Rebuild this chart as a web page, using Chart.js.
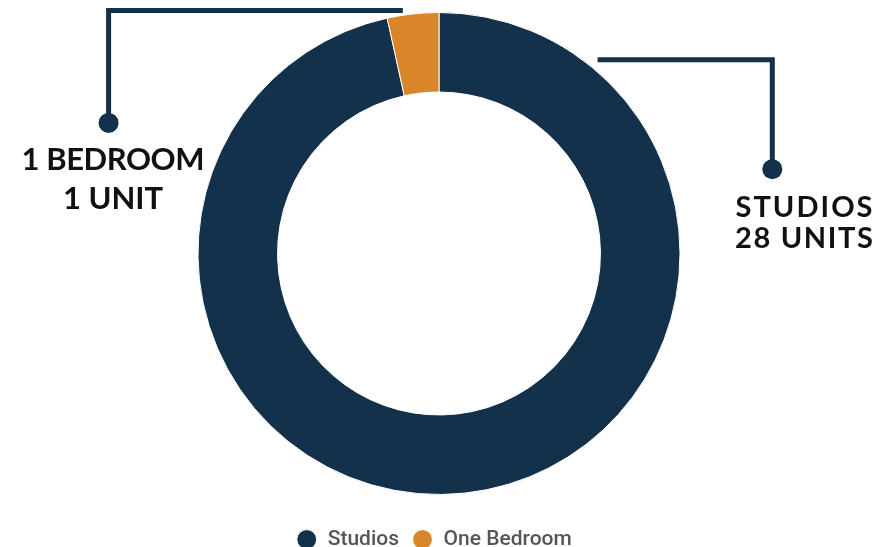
<!DOCTYPE html>
<html>
<head>
<meta charset="utf-8">
<script src="https://cdn.jsdelivr.net/npm/chart.js@4"></script>
<style>
html,body{margin:0;padding:0;background:#fff;}
#wrap{width:896px;height:547px;position:relative;}
</style>
</head>
<body>
<div id="wrap"><canvas id="c" width="896" height="547"></canvas></div>
<script>
const categories = ["Studios", "One Bedroom"];
const units = [28, 1];
const colors = ["#13314a", "#d9862a"];
const calloutLines = [["1 BEDROOM", "1 UNIT"], ["STUDIOS", "28 UNITS"]];

function fitText(ctx, text, x, y, targetW) {
  ctx.letterSpacing = '0px';
  const w = ctx.measureText(text).width;
  const sp = (targetW - w) / Math.max(1, text.length - 1);
  ctx.letterSpacing = sp.toFixed(2) + 'px';
  ctx.fillText(text, x + sp / 2, y);
  ctx.letterSpacing = '0px';
}

const legendShift = {
  id: 'legendShift',
  afterLayout(chart) {
    const lg = chart.legend;
    if (lg) { lg.top += 21; lg.bottom += 21; lg.left -= 5; lg.right -= 5; }
  }
};

const callouts = {
  id: 'callouts',
  afterDatasetsDraw(chart) {
    const ctx = chart.ctx;
    const arcs = chart.getDatasetMeta(0).data;
    const cx = arcs[0].x, cy = arcs[0].y, R = arcs[0].outerRadius;
    ctx.save();
    ctx.strokeStyle = colors[0];
    ctx.fillStyle = colors[0];
    ctx.lineWidth = 5;
    ctx.lineCap = 'butt';
    ctx.lineJoin = 'miter';
    // one bedroom callout (left)
    const lx = cx - R * 1.371, ly = cy - R * 1.008, ldy = cy - R * 0.542;
    ctx.beginPath();
    ctx.moveTo(cx - R * 0.15, ly);
    ctx.lineTo(lx, ly);
    ctx.lineTo(lx, ldy);
    ctx.stroke();
    ctx.beginPath(); ctx.arc(lx, ldy, 10, 0, Math.PI * 2); ctx.fill();
    // studios callout (right)
    const rx = cx + R * 1.383, ry = cy - R * 0.804, rdy = cy - R * 0.35;
    ctx.beginPath();
    ctx.moveTo(cx + R * 0.658, ry);
    ctx.lineTo(rx, ry);
    ctx.lineTo(rx, rdy);
    ctx.stroke();
    ctx.beginPath(); ctx.arc(rx, rdy, 10, 0, Math.PI * 2); ctx.fill();
    // texts
    ctx.fillStyle = '#111';
    ctx.textAlign = 'center';
    ctx.textBaseline = 'alphabetic';
    ctx.font = '700 31px Lato';
    fitText(ctx, calloutLines[0][0], 113, 170, 183);
    fitText(ctx, calloutLines[0][1], 113, 209, 100);
    ctx.font = '700 29px Lato';
    fitText(ctx, calloutLines[1][0], 804, 217, 137);
    fitText(ctx, calloutLines[1][1], 804, 248, 138);
    ctx.restore();
  }
};

new Chart(document.getElementById('c'), {
  type: 'doughnut',
  data: {
    labels: categories,
    datasets: [{
      data: units,
      backgroundColor: colors,
      borderColor: '#ffffff',
      borderWidth: 1
    }]
  },
  options: {
    responsive: false,
    animation: false,
    cutout: '67%',
    layout: { padding: { top: 12, right: 18, left: 0, bottom: 8 } },
    plugins: {
      tooltip: { enabled: false },
      legend: {
        position: 'bottom',
        labels: {
          usePointStyle: true,
          pointStyle: 'circle',
          boxWidth: 21,
          boxHeight: 14,
          padding: 13,
          color: '#555',
          font: { family: 'Roboto', size: 21, weight: '500' }
        }
      }
    }
  },
  plugins: [callouts, legendShift]
});
</script>
</body>
</html>
